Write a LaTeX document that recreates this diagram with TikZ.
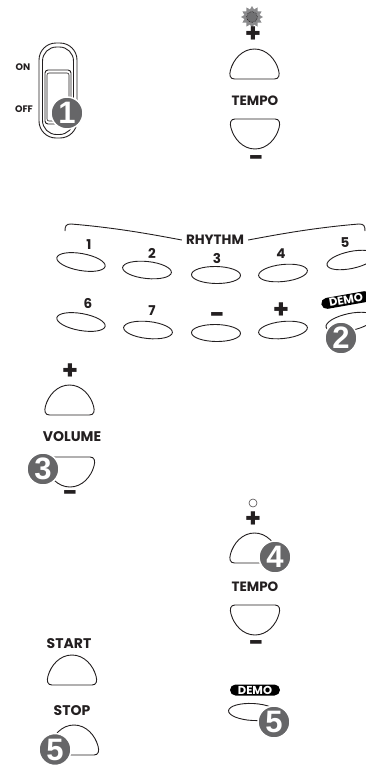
\documentclass[tikz,border=0pt]{standalone}
\usepackage{fontspec}
\setmainfont{Poppins}
\newfontfamily\badgefont{Liberation Sans}
\usetikzlibrary{shapes.geometric}
\definecolor{ink}{HTML}{231F20}
\definecolor{badgegray}{HTML}{666668}
\definecolor{sungray}{HTML}{8A8A8C}
\definecolor{sundark}{HTML}{707072}
\tikzset{
  ln/.style={draw=ink, line width=0.9pt},
  pics/dome/.style={code={
    \draw[ln] (-20,0) -- (20,0) .. controls (24.5,0) and (25.5,-4) .. (24,-9)
      .. controls (21,-20) and (12,-30) .. (0,-30)
      .. controls (-12,-30) and (-21,-20) .. (-24,-9)
      .. controls (-25.5,-4) and (-24.5,0) .. (-20,0) -- cycle;}},
  lbl/.style={text=ink, inner sep=0, font=\bfseries\fontsize{13.5}{13.5}\selectfont},
  biglbl/.style={text=ink, inner sep=0, font=\bfseries\fontsize{14}{14}\selectfont},
  smalllbl/.style={text=ink, inner sep=0, font=\bfseries\fontsize{9.5}{9.5}\selectfont},
  sym/.style={text=ink, inner sep=0, font=\bfseries\fontsize{26}{26}\selectfont},
  minus/.style={sym, anchor=base},
  oval/.style={ellipse, ln, minimum width=49pt, minimum height=17pt, inner sep=0},
  badge/.style={circle, fill=badgegray, draw=white, line width=1.5pt, minimum size=32pt,
    inner sep=0, text=white, font=\badgefont\bfseries\fontsize{31}{31}\selectfont},
  pill/.style={rounded corners=5.5pt, fill=black, text=white, minimum width=50pt,
    minimum height=11pt, inner sep=0, font=\bfseries\fontsize{11.5}{11.5}\selectfont}
}
\begin{document}
\begin{tikzpicture}[x=1pt,y=-1pt]
\useasboundingbox (0,0) rectangle (366,766);
% power switch
\draw[ln, rounded corners=17pt] (39,43) rectangle (77,138);
\draw[ln, rounded corners=14pt] (42.5,47) rectangle (73.5,134.5);
\draw[ln, rounded corners=3pt] (45,70) rectangle (71,124);
\draw[ln, line width=0.6pt, rounded corners=2pt] (47,73) rectangle (69,121);
\node[smalllbl] (on) at (23,67) {ON};
\node[smalllbl] (off) at (24,109) {OFF};
\node[badge] (b1) at (67,113) {1};
% tempo top
\node[star, star points=12, star point ratio=1.4, fill=sungray, minimum size=22pt, inner sep=0] (sun) at (252,17) {};
\node[circle, fill=sundark, draw=ink, densely dotted, line width=0.6pt, minimum size=11pt, inner sep=0] (sunc) at (252,17) {};
\node[sym] (tp1) at (253,35) {+};
\pic at (254.5,79) {dome};
\node[lbl] (tempo1) at (255,101) {TEMPO};
\pic[yscale=-1] at (255,119) {dome};
\node[minus] (tm1) at (256,166) {−};
% rhythm
\node[lbl, inner xsep=4pt] (rh) at (215,240) {RHYTHM};
\draw[ln] (65,231) .. controls (65,226) and (66,224) .. (71,224)
  .. controls (120,228) and (160,236) .. (rh.west);
\draw[ln] (rh.east) .. controls (270,236) and (310,228) .. (359,224)
  .. controls (364,224) and (365,226) .. (365,231);
\node[oval, rotate=-10] (r1) at (81,262) {};
\node[oval, rotate=-6] (r2) at (147,270) {};
\node[oval, rotate=-1] (r3) at (216,275) {};
\node[oval, rotate=6] (r4) at (283,273) {};
\node[oval, rotate=12] (r5) at (351,260) {};
\node[lbl] (n1) at (89,245) {1};
\node[lbl] (n2) at (152,253) {2};
\node[lbl] (n3) at (217,258) {3};
\node[lbl] (n4) at (281,254) {4};
\node[lbl] (n5) at (345,243) {5};
\node[oval, rotate=-10] (r6) at (81,322) {};
\node[oval, rotate=-6] (r7) at (148,330) {};
\node[oval, rotate=-1] (rm) at (216,333) {};
\node[oval, rotate=6] (rp) at (283,330) {};
\node[oval, rotate=12] (rd) at (350,322) {};
\node[lbl] (n6) at (88,303) {6};
\node[lbl] (n7) at (152,311) {7};
\node[minus] (nm) at (217,323) {−};
\node[sym] (np) at (281,311) {+};
\node[pill, rotate=10] (demo1) at (346,300) {DEMO};
\node[badge] (b2) at (341,338) {2};
% volume
\node[sym] (vp) at (70,372) {+};
\pic at (69.5,415) {dome};
\node[biglbl] (vol) at (72,437) {VOLUME};
\pic[yscale=-1] at (70,457) {dome};
\node[minus] (vm) at (70,501) {−};
\node[badge] (b3) at (43,469) {3};
% tempo bottom
\node[circle, draw=ink!80, line width=0.6pt, minimum size=8pt, inner sep=0] (led) at (253,503) {};
\node[sym] (tp2) at (253,520) {+};
\pic at (254.5,563) {dome};
\node[lbl] (tempo2) at (255,587) {TEMPO};
\pic[yscale=-1] at (255,605) {dome};
\node[minus] (tm2) at (256,651) {−};
\node[badge] (b4) at (275,557) {4};
% demo bottom
\node[pill] (demo2) at (255,690) {DEMO};
\node[oval, rotate=-3] (od) at (253,712) {};
\node[badge] (b5a) at (274,722) {5};
% start / stop
\node[biglbl] (start) at (69,644) {START};
\pic at (72,685) {dome};
\node[biglbl] (stop) at (72,711) {STOP};
\pic at (74,755) {dome};
\node[badge] (b5b) at (55,749.5) {5};
\end{tikzpicture}
\end{document}
